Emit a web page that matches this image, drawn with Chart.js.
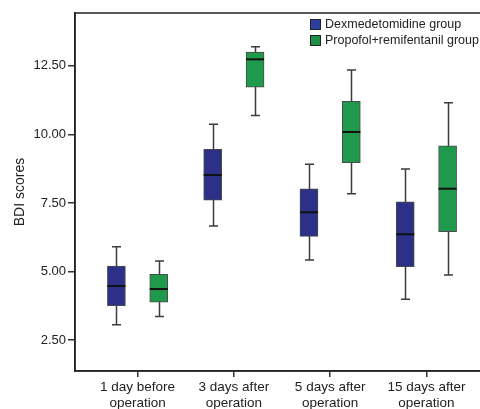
<!DOCTYPE html>
<html>
<head>
<meta charset="utf-8">
<script src="https://cdn.jsdelivr.net/npm/chart.js@4"></script>
<style>
  html, body { margin: 0; padding: 0; background: #fff; overflow: hidden; }
  #wrap { width: 492px; height: 409px; }
</style>
</head>
<body>
<div id="wrap"><canvas id="bdiChart" width="492" height="409"></canvas></div>
<script>
// categories (x axis)
var categories = [['1 day before', 'operation'], ['3 days after', 'operation'], ['5 days after', 'operation'], ['15 days after', 'operation']];
var seriesNames = ['Dexmedetomidine group', 'Propofol+remifentanil group'];

// box plot values, one entry per category
var dexMin = [3.06, 6.66, 5.42, 3.99];
var dexQ1 = [3.75, 7.60, 6.28, 5.18];
var dexMedian = [4.47, 8.52, 7.16, 6.36];
var dexQ3 = [5.20, 9.46, 8.02, 7.54];
var dexMax = [5.90, 10.37, 8.91, 8.74];

var propMin = [3.36, 10.69, 7.84, 4.87];
var propQ1 = [3.88, 11.72, 8.97, 6.45];
var propMedian = [4.36, 12.74, 10.09, 8.02];
var propQ3 = [4.90, 13.00, 11.21, 9.58];
var propMax = [5.38, 13.20, 12.35, 11.16];

var yTicks = [2.5, 5, 7.5, 10, 12.5];

var boxOffset = 0.22;

function makeBoxes(q1, q3, med, lo, hi, shift) {
    return q1.map(function (v, i) {
        return { x: i + 1 + shift, y: [v, q3[i]], median: med[i], min: lo[i], max: hi[i] };
    });
}

// whiskers before the boxes, medians after
var boxPlotPlugin = {
    id: 'boxPlot',
    beforeDatasetsDraw: function (chart) {
        var ctx = chart.ctx;
        var xs = chart.scales.x, ys = chart.scales.y;
        ctx.save();
        ctx.strokeStyle = '#3c3c3c';
        ctx.lineWidth = 1.5;
        chart.data.datasets.forEach(function (ds) {
            ds.data.forEach(function (d) {
                var px = Math.round(xs.getPixelForValue(d.x)) + 0.5;
                var top = ys.getPixelForValue(d.max);
                var bot = ys.getPixelForValue(d.min);
                ctx.beginPath();
                ctx.moveTo(px, top);
                ctx.lineTo(px, bot);
                ctx.moveTo(px - 4.5, top);
                ctx.lineTo(px + 4.5, top);
                ctx.moveTo(px - 4.5, bot);
                ctx.lineTo(px + 4.5, bot);
                ctx.stroke();
            });
        });
        ctx.restore();
    },
    afterDatasetsDraw: function (chart) {
        var ctx = chart.ctx;
        var xs = chart.scales.x, ys = chart.scales.y;
        ctx.save();
        ctx.strokeStyle = '#111';
        ctx.lineWidth = 2;
        chart.data.datasets.forEach(function (ds) {
            ds.data.forEach(function (d) {
                var px = xs.getPixelForValue(d.x);
                var py = ys.getPixelForValue(d.median);
                ctx.beginPath();
                ctx.moveTo(px - 9, py);
                ctx.lineTo(px + 9, py);
                ctx.stroke();
            });
        });
        // frame round the plot
        var a = chart.chartArea;
        ctx.strokeStyle = '#222';
        ctx.lineWidth = 1.5;
        ctx.strokeRect(a.left, a.top, a.right - a.left, a.bottom - a.top);

        // legend inside the plot, top right
        ctx.font = '12.5px "Liberation Sans", Arial, sans-serif';
        ctx.textBaseline = 'middle';
        chart.data.datasets.forEach(function (ds, i) {
            var lx = 310, ly = 19 + i * 16;
            ctx.fillStyle = ds.legendColor;
            ctx.fillRect(lx, ly, 11, 11);
            ctx.strokeStyle = '#222';
            ctx.lineWidth = 1;
            ctx.strokeRect(lx + 0.5, ly + 0.5, 10, 10);
            ctx.fillStyle = '#222';
            ctx.fillText(ds.label, lx + 15, ly + 6);
        });
        ctx.restore();
    }
};

var ctx = document.getElementById('bdiChart').getContext('2d');
new Chart(ctx, {
    type: 'bar',
    data: {
        datasets: [{
            label: seriesNames[0],
            data: makeBoxes(dexQ1, dexQ3, dexMedian, dexMin, dexMax, -boxOffset),
            backgroundColor: '#2c3088',
            legendColor: '#2d3f9c',
            borderColor: '#4a4a4a',
            borderWidth: 1,
            borderSkipped: false,
            barThickness: 18,
            grouped: false
        }, {
            label: seriesNames[1],
            data: makeBoxes(propQ1, propQ3, propMedian, propMin, propMax, boxOffset),
            backgroundColor: '#1f9a4c',
            legendColor: '#1f8f47',
            borderColor: '#4a4a4a',
            borderWidth: 1,
            borderSkipped: false,
            barThickness: 18,
            grouped: false
        }]
    },
    options: {
        responsive: false,
        animation: false,
        layout: { padding: { top: 13, right: 3, left: 0, bottom: 0 } },
        plugins: {
            legend: { display: false },
            tooltip: { enabled: false }
        },
        scales: {
            x: {
                type: 'linear',
                offset: false,
                min: 0.35,
                max: 4.65,
                afterBuildTicks: function (axis) {
                    axis.ticks = categories.map(function (c, i) { return { value: i + 1 }; });
                },
                afterFit: function (axis) { axis.height = 38; },
                ticks: {
                    color: '#222',
                    padding: 2,
                    maxRotation: 0,
                    autoSkip: false,
                    font: { family: '"Liberation Sans", Arial, sans-serif', size: 13.5 },
                    callback: function (v) { return categories[v - 1]; }
                },
                grid: { offset: false, drawOnChartArea: false, drawTicks: true, tickLength: 6, color: '#333', lineWidth: 1.5 },
                border: { display: true, color: '#222', width: 1.5 }
            },
            y: {
                min: 1.37,
                max: 14.43,
                afterBuildTicks: function (axis) {
                    axis.ticks = yTicks.map(function (v) { return { value: v }; });
                },
                afterFit: function (axis) { axis.width = 75; },
                ticks: {
                    color: '#222',
                    padding: 2,
                    font: { family: '"Liberation Sans", Arial, sans-serif', size: 13 },
                    callback: function (v) { return Number(v).toFixed(2); }
                },
                grid: { drawOnChartArea: false, drawTicks: true, tickLength: 7, color: '#333', lineWidth: 1.5 },
                border: { display: true, color: '#222', width: 1.5 },
                title: {
                    display: true,
                    text: 'BDI scores',
                    color: '#222',
                    padding: { top: 12, bottom: 0 },
                    font: { family: '"Liberation Sans", Arial, sans-serif', size: 14 }
                }
            }
        }
    },
    plugins: [boxPlotPlugin]
});
</script>
</body>
</html>
